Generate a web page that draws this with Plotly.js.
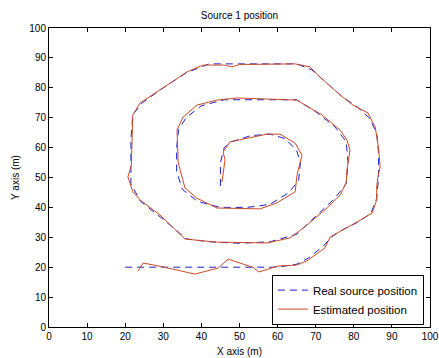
<!DOCTYPE html>
<html>
<head>
<meta charset="utf-8">
<script src="https://cdn.plot.ly/plotly-3.0.1.min.js"></script>
<style>html,body{margin:0;padding:0;background:#fff;}#chart{width:439px;height:358px;}</style>
</head>
<body>
<div id="chart"></div>
<script>
// Real source trajectory (dashed blue)
const realX = [20, 30, 40, 50, 60, 65, 68, 72, 74, 77, 81, 84.5, 86, 86.5, 86.5, 86, 84, 81, 77, 73, 69, 65, 58, 50, 42, 36, 30, 24.5, 22, 21.5, 21.5, 21.5, 24, 30, 36, 42, 50, 58, 65, 70, 75, 78, 78.5, 78, 75, 70, 65, 60, 53, 46, 40, 36, 34, 33.5, 33.5, 35, 39, 45, 52, 58, 63, 65.5, 66, 65, 62, 58, 53, 48, 46, 45, 45];
const realY = [20, 20, 20, 20, 20, 21, 23, 27, 30, 32.5, 35, 38, 43, 50, 58, 65, 70, 73.5, 77, 81.5, 86, 88, 88, 88, 88, 85, 80, 75, 71, 63, 55, 48, 42, 36, 29.5, 28.5, 28, 28.5, 31, 37, 43, 48, 55, 62, 67, 72, 76, 76, 76, 76, 74, 70, 66, 60, 52, 46, 42, 40, 40, 41, 45, 49, 55, 59, 63, 64.5, 64, 62, 60, 55, 47];
// Estimated trajectory (solid red)
const estX = [23.4, 24.7, 29.9, 38.3, 44.4, 47, 53.5, 55.1, 60.1, 65, 67.7, 72.4, 73.8, 77.2, 80.8, 84.8, 86, 86, 86.3, 86.9, 86.5, 85.6, 83.7, 79.8, 76.4, 71.1, 68.5, 64.6, 50, 48, 46, 40.4, 36.2, 32.3, 23.9, 22, 21.8, 21.8, 21.6, 20.7, 22, 23.9, 29.1, 35.7, 44, 57.2, 63.3, 67.7, 73, 76.4, 78, 78.2, 79, 78.2, 76.4, 71.7, 65, 49.3, 44.1, 38.8, 35.2, 33.6, 33.9, 35.7, 38.8, 44.1, 55.4, 59.8, 64.6, 65.1, 66.4, 64.6, 60.6, 57.2, 47.5, 45.7, 46.2, 45.4];
const estY = [18.7, 21.4, 20.1, 17.7, 19.7, 22.7, 20, 18.4, 20.4, 20.7, 22.1, 26.4, 30.1, 32.4, 35.1, 38.1, 42.5, 46.8, 50, 53.5, 60, 66.9, 71.6, 74.2, 77.6, 83.6, 87, 88, 87.8, 87, 87.6, 87.6, 85.3, 82, 74.9, 70.9, 65, 60, 54, 50.2, 45.2, 42.5, 37.5, 29.4, 28.4, 28.1, 29.8, 34.1, 39.8, 44.1, 48.2, 52.5, 59.2, 62.5, 65.9, 70.9, 75.9, 76.6, 75.9, 74.2, 70.2, 65.9, 55, 46.5, 43.1, 39.8, 39.5, 41.5, 45.2, 50.8, 57.5, 61.5, 64.5, 64.5, 61.9, 58.5, 55.9, 48.5];
const tickVals = [0, 10, 20, 30, 40, 50, 60, 70, 80, 90, 100];

const font = {family: 'Liberation Sans, Arial, Helvetica, sans-serif', size: 10, color: '#000'};

const traces = [
  {x: realX, y: realY, type: 'scatter', mode: 'lines', name: 'Real source position',
   line: {color: '#1f1fcf', width: 1, dash: '7px,5px'}},
  {x: estX, y: estY, type: 'scatter', mode: 'lines', name: 'Estimated position',
   line: {color: '#cc4a26', width: 1}}
];

const axisCommon = {
  range: [0, 100], tickvals: tickVals, ticktext: tickVals.map(String),
  ticks: 'inside', ticklen: 4, tickwidth: 1, tickcolor: '#000',
  showline: true, linecolor: '#000', linewidth: 1, mirror: 'ticks',
  showgrid: false, zeroline: false, tickfont: font, fixedrange: true
};

const layout = {
  width: 439, height: 358,
  margin: {l: 49, r: 9, t: 28, b: 31},
  paper_bgcolor: '#fff', plot_bgcolor: '#fff',
  font: font,
  title: {text: 'Source 1 position', font: {family: font.family, size: 10, color: '#000'}, x: 0.5, xref: 'paper', xanchor: 'center', y: 0.958, yanchor: 'middle'},
  xaxis: Object.assign({}, axisCommon, {title: {text: 'X axis (m)', font: font, standoff: 6}}),
  yaxis: Object.assign({}, axisCommon, {title: {text: 'Y axis (m)', font: font, standoff: 7}}),
  showlegend: true,
  legend: {x: 0.984, xanchor: 'right', y: 0.008, yanchor: 'bottom', bgcolor: '#fff', bordercolor: '#000', borderwidth: 1, font: {family: font.family, size: 11.5, color: '#000'}, tracegroupgap: 0, itemwidth: 30}
};

Plotly.newPlot('chart', traces, layout, {staticPlot: true, displayModeBar: false});
</script>
</body>
</html>
